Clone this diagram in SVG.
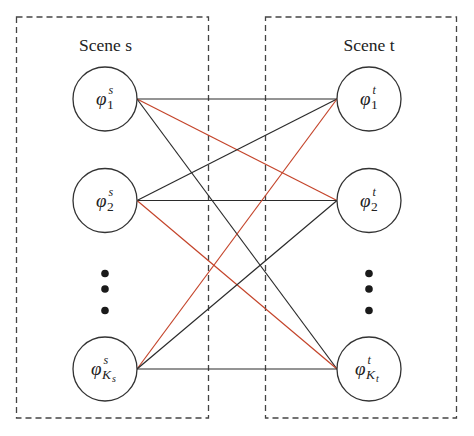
<svg xmlns="http://www.w3.org/2000/svg" width="474" height="436" viewBox="0 0 474 436">
<style>
.box{fill:none;stroke:#444;stroke-width:1.3;stroke-dasharray:6 4}
.node{fill:#fff;stroke:#333;stroke-width:1.3}
.k{stroke:#2b2b2b;stroke-width:1.2;fill:none}
.r{stroke:#c4442a;stroke-width:1.2;fill:none}
.title{font-family:"Liberation Serif",serif;font-size:17.5px;fill:#222}
.phi{font-family:"Liberation Serif",serif;font-style:italic;font-size:19px;fill:#222}
.sup{font-family:"Liberation Serif",serif;font-style:italic;font-size:12px;fill:#222}
.sub{font-family:"Liberation Serif",serif;font-size:13.5px;fill:#222}
.ss{font-family:"Liberation Serif",serif;font-style:italic;font-size:10px;fill:#222}
.dot{fill:#1a1a1a}
</style>
<rect class="box" x="16.5" y="17" width="192" height="401"/>
<rect class="box" x="265.5" y="17" width="191" height="401"/>
<text class="title" x="105.5" y="51" text-anchor="middle">Scene s</text>
<text class="title" x="369" y="51" text-anchor="middle">Scene t</text>
<g id="connectors">
<line class="k" x1="137" y1="99" x2="337" y2="99"/>
<line class="r" x1="137" y1="99" x2="337" y2="200.5"/>
<line class="k" x1="137" y1="99" x2="337" y2="369"/>
<line class="k" x1="137" y1="200.5" x2="337" y2="99"/>
<line class="k" x1="137" y1="200.5" x2="337" y2="200.5"/>
<line class="r" x1="137" y1="200.5" x2="337" y2="369"/>
<line class="r" x1="137" y1="369" x2="337" y2="99"/>
<line class="k" x1="137" y1="369" x2="337" y2="200.5"/>
<line class="k" x1="137" y1="369" x2="337" y2="369"/>
</g>
<g id="s1"><circle class="node" cx="105" cy="99" r="32"/><text class="phi" x="96" y="105">φ</text><text class="sup" x="108.5" y="94">s</text><text class="sub" x="107" y="109">1</text></g>
<g id="s2"><circle class="node" cx="105" cy="200.5" r="32"/><text class="phi" x="96" y="206.5">φ</text><text class="sup" x="108.5" y="195.5">s</text><text class="sub" x="107" y="210.5">2</text></g>
<g id="sK"><circle class="node" cx="105" cy="369" r="32"/><text class="phi" x="91" y="375">φ</text><text class="sup" x="103.5" y="364">s</text><text class="sub" x="102" y="379" font-style="italic">K</text><text class="ss" x="112" y="382">s</text></g>
<g id="t1"><circle class="node" cx="369" cy="99" r="32"/><text class="phi" x="360" y="105">φ</text><text class="sup" x="372.5" y="94">t</text><text class="sub" x="371" y="109">1</text></g>
<g id="t2"><circle class="node" cx="369" cy="200.5" r="32"/><text class="phi" x="360" y="206.5">φ</text><text class="sup" x="372.5" y="195.5">t</text><text class="sub" x="371" y="210.5">2</text></g>
<g id="tK"><circle class="node" cx="369" cy="369" r="32"/><text class="phi" x="355" y="375">φ</text><text class="sup" x="367.5" y="364">t</text><text class="sub" x="366" y="379" font-style="italic">K</text><text class="ss" x="376" y="382">t</text></g>
<g id="dots-s"><circle class="dot" cx="105" cy="273.5" r="3.8"/><circle class="dot" cx="105" cy="289" r="3.8"/><circle class="dot" cx="105" cy="310.5" r="3.8"/></g>
<g id="dots-t"><circle class="dot" cx="369" cy="273.5" r="3.8"/><circle class="dot" cx="369" cy="289" r="3.8"/><circle class="dot" cx="369" cy="310.5" r="3.8"/></g>
</svg>
